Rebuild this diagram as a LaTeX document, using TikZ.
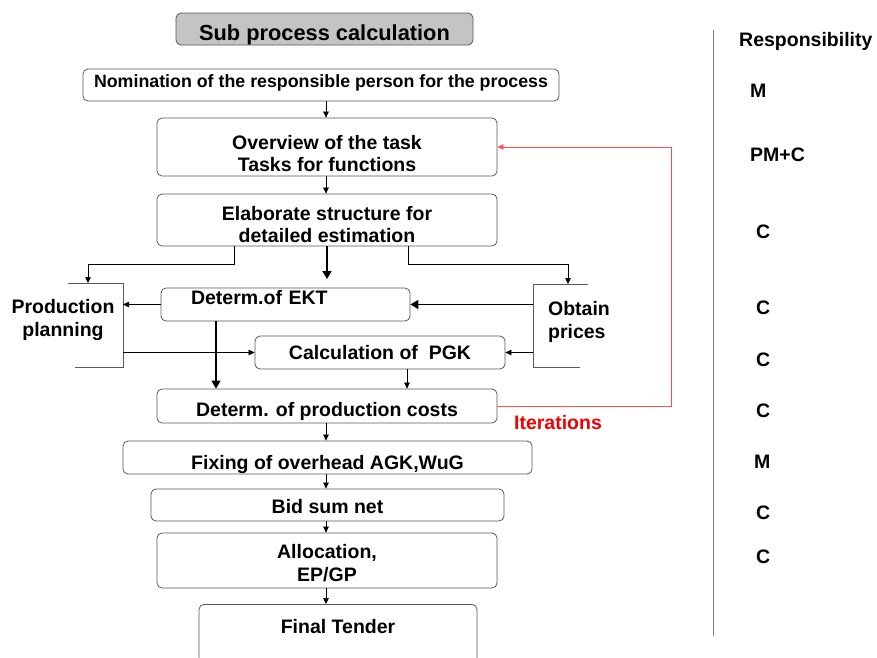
\documentclass[tikz,border=0pt]{standalone}
\usepackage{fontspec}
\setmainfont{Liberation Sans}
\usetikzlibrary{arrows.meta}
\definecolor{boxline}{HTML}{5A5A5A}
\definecolor{titlefill}{HTML}{C4C4C4}
\definecolor{iterline}{HTML}{FF5050}
\definecolor{iterred}{HTML}{F00000}
% set a block of lines lower inside its box without changing the box size
\newcommand\Lift[3][c]{\raisebox{-#2}[\height][\depth]{\begin{tabular}{@{}#1@{}}#3\end{tabular}}}
\begin{document}
\begin{tikzpicture}[x=1pt,y=-1pt,
  txt/.style={font=\fontsize{19.5}{22.5}\bfseries\selectfont, align=center, inner sep=0pt},
  stepbox/.style={draw=boxline, line width=0.8pt, rounded corners=5pt, fill=white,
    font=\fontsize{19.5}{22.5}\bfseries\selectfont, align=center, inner sep=0pt},
  titlebox/.style={stepbox, fill=titlefill, font=\fontsize{21.8}{24}\bfseries\selectfont},
  flow/.style={draw=black, line width=0.7pt, -{Triangle[length=6pt,width=5.5pt]}},
  bigflow/.style={draw=black, line width=1.6pt, -{Triangle[length=8pt,width=9pt]}},
  bracket/.style={draw=boxline, line width=0.8pt},
  iter/.style={draw=iterline, line width=0.8pt, -{Triangle[length=6pt,width=5.5pt]}, iterline},
  resp/.style={txt, anchor=west}
]
\clip (0,0) rectangle (877,657);
\fill[white] (0,0) rectangle (877,657);

% guide coordinates
\coordinate (mx) at (326,0);
\coordinate (ektx) at (216,0);
\coordinate (calcx) at (407,0);
\coordinate (redx) at (671,0);
\coordinate (ppv) at (123,283);
\coordinate (opv) at (533,284);
\coordinate (ppin) at (88,283);
\coordinate (opin) at (568,284);

% main process boxes
\node[titlebox, minimum width=297, minimum height=32] (title) at (324.5,29) {\Lift{7pt}{Sub process calculation}};
\node[stepbox, minimum width=476, minimum height=32, font=\fontsize{17.8}{20}\bfseries\selectfont] (nom) at (321,85) {\Lift{-1.5pt}{Nomination of the responsible person for the process}};
\node[stepbox, minimum width=340, minimum height=58] (over) at (327,147) {\Lift{9pt}{Overview of the task\\Tasks for functions}};
\node[stepbox, minimum width=340, minimum height=52] (elab) at (327,220) {\Lift{7pt}{Elaborate structure for\\detailed estimation}};
\node[stepbox, minimum height=33, text width=189, inner xsep=30pt, align=left] (ekt) at (285.5,304.5) {\Lift[l]{-5pt}{Determ.of EKT}};
\node[stepbox, minimum width=250, minimum height=33] (calc) at (380,352.5) {Calculation of ~PGK};
\node[stepbox, minimum width=340, minimum height=34] (prod) at (327,406) {\Lift{6pt}{Determ. of production costs}};
\node[stepbox, minimum width=409, minimum height=33] (fix) at (327.5,457.5) {\Lift{7.5pt}{Fixing of overhead AGK,WuG}};
\node[stepbox, minimum width=353, minimum height=32] (bid) at (327.5,505) {\Lift{4pt}{Bid sum net}};
\node[stepbox, minimum width=340, minimum height=55] (alloc) at (327,560.5) {\Lift{5pt}{Allocation,\\EP/GP}};
\node[stepbox, anchor=north, minimum width=278, text height=25pt, text depth=50pt, inner ysep=4pt] (final) at (338,604) {Final Tender};

% side brackets
\draw[bracket] (68,283) -| (123,367) -- (75,367);
\node[txt] (pp) at (63,320) {Production\\planning};
\draw[bracket] (588,284) -| (533,367) -- (580,367);
\node[txt, align=left] (op) at (579,322) {Obtain\\prices};

% connectors along the main flow
\draw[flow] (mx |- nom.south) -- (mx |- over.north);
\draw[flow] (mx |- over.south) -- (mx |- elab.north);
\coordinate (elabtip) at (327,279);
\draw[bigflow] (elab.south) -- (elabtip);
\draw[flow] ([xshift=-93pt]elab.south) -- ++(0,18) -| (ppin);
\draw[flow] ([xshift=81pt]elab.south) -- ++(0,18) -| (opin);
\draw[flow] (ekt.west) -- (ekt.west -| ppv);
\draw[flow] (ppv |- calc.west) -- (calc.west);
\draw[bigflow, line width=1.3pt] (opv |- ekt.east) -- (ekt.east);
\draw[flow] (opv |- calc.east) -- (calc.east);
\draw[bigflow] (ektx |- ekt.south) -- (ektx |- prod.north);
\draw[flow] (calcx |- calc.south) -- (calcx |- prod.north);
\draw[flow] (mx |- prod.south) -- (mx |- fix.north);
\draw[flow] (mx |- fix.south) -- (mx |- bid.north);
\draw[flow] (mx |- bid.south) -- (mx |- alloc.north);
\draw[flow] (mx |- alloc.south) -- (mx |- final.north);

% iteration loop
\draw[iter] (prod.east) -| (redx |- over.east) -- (over.east);
\node[txt, text=iterred] (itl) at (558,423) {Iterations};

% responsibility column
\draw[draw=gray, line width=0.8pt] (713,30) -- (713,636);
\node[resp] (rh) at (739,41) {Responsibility};
\node[resp] (r1) at (750,91) {M};
\node[resp] (r2) at (750,155) {PM+C};
\node[resp] (r3) at (756,232) {C};
\node[resp] (r4) at (756,308) {C};
\node[resp] (r5) at (756,360) {C};
\node[resp] (r6) at (756,411) {C};
\node[resp] (r7) at (754,462) {M};
\node[resp] (r8) at (756,513) {C};
\node[resp] (r9) at (756,557) {C};
\end{tikzpicture}
\end{document}
